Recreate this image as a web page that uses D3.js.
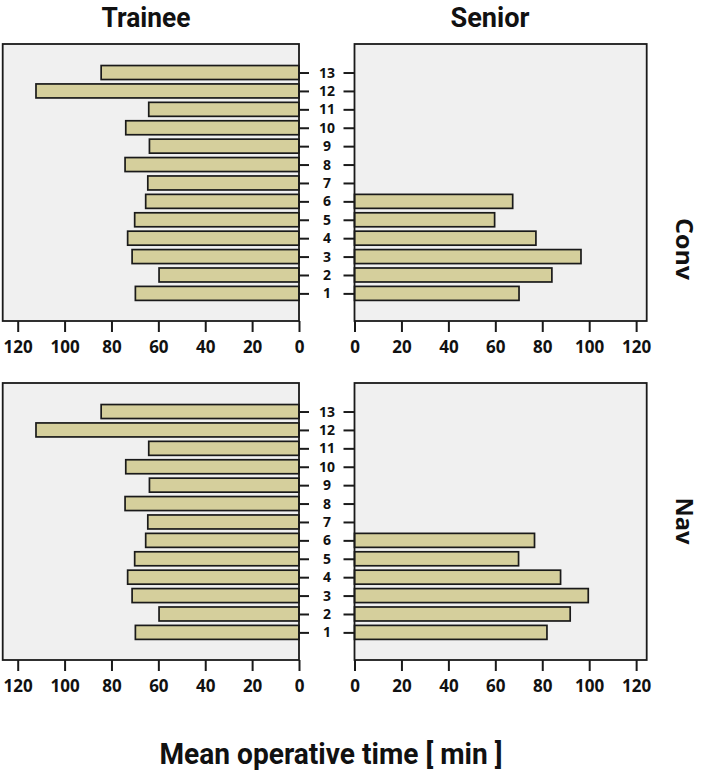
<!DOCTYPE html>
<html>
<head>
<meta charset="utf-8">
<script src="https://cdn.jsdelivr.net/npm/d3@7"></script>
<style>
  html, body { margin: 0; padding: 0; background: #fff; }
  svg { display: block; }
  text { font-family: "Open Sans", "Noto Sans", sans-serif; font-weight: bold; fill: #111; }
  .title { font-family: Roboto, "Open Sans", sans-serif; font-weight: bold; }
</style>
</head>
<body>
<svg id="chart" width="702" height="772"></svg>
<script>
// ---------- data ----------
const categories = [1, 2, 3, 4, 5, 6, 7, 8, 9, 10, 11, 12, 13];
const columns = ["Trainee", "Senior"];
const rows = ["Conv", "Nav"];
const traineeConv = [69.8, 59.7, 71.2, 73.1, 70.1, 65.4, 64.5, 74.2, 63.8, 73.9, 64.1, 112.2, 84.4];
const traineeNav  = [69.8, 59.7, 71.2, 73.1, 70.1, 65.4, 64.5, 74.2, 63.8, 73.9, 64.1, 112.2, 84.4];
const seniorConv  = [70.1, 84.1, 96.5, 77.3, 59.7, 67.4];
const seniorNav   = [82.0, 91.9, 99.6, 87.8, 69.9, 76.7];
const xTicks = [0, 20, 40, 60, 80, 100, 120];
const xTitle = "Mean operative time [ min ]";

// ---------- layout ----------
const svg = d3.select("#chart");
const leftPanel = { x0: 2.7, x1: 299 };
const rightPanel = { x0: 354.5, x1: 646.7 };
const rowTops = [44, 383];
const panelH = 277;
const barFill = "#d5cf9c";
const ink = "#1a1a1a";

const xL = d3.scaleLinear().domain([0, 126.4]).range([leftPanel.x1, leftPanel.x0]);
const xR = d3.scaleLinear().domain([0, 124.5]).range([rightPanel.x0, rightPanel.x1]);

const panelData = [
  [traineeConv, seniorConv],
  [traineeNav, seniorNav]
];

rows.forEach((rowName, r) => {
  const top = rowTops[r];
  const y = d3.scaleLinear().domain([-0.5, 14.55]).range([top + panelH, top]);
  const bh = y(0) - y(0.76);

  [[leftPanel, xL], [rightPanel, xR]].forEach(([p, sc], c) => {
    const g = svg.append("g");
    g.append("rect")
      .attr("x", p.x0).attr("y", top)
      .attr("width", p.x1 - p.x0).attr("height", panelH)
      .attr("fill", "#f0f0f0");

    const vals = panelData[r][c];
    g.selectAll("rect.bar").data(vals).join("rect")
      .attr("class", "bar")
      .attr("x", (d) => c === 0 ? sc(d) : sc(0))
      .attr("width", (d) => Math.abs(sc(d) - sc(0)))
      .attr("y", (d, i) => y(categories[i]) - bh / 2)
      .attr("height", bh)
      .attr("fill", barFill)
      .attr("stroke", ink)
      .attr("stroke-width", 1.7);

    g.append("rect")
      .attr("x", p.x0).attr("y", top)
      .attr("width", p.x1 - p.x0).attr("height", panelH)
      .attr("fill", "none").attr("stroke", ink).attr("stroke-width", 1.8);

    const ax = svg.append("g")
      .attr("transform", `translate(0,${top + panelH})`)
      .call(d3.axisBottom(sc).tickValues(xTicks).tickSize(11).tickSizeOuter(0));
    ax.select(".domain").remove();
    ax.selectAll(".tick line").attr("stroke", ink).attr("stroke-width", 2);
    ax.selectAll(".tick text")
      .attr("y", 32).attr("dy", null)
      .style("font-family", '"Open Sans", sans-serif')
      .style("font-weight", "bold")
      .style("font-size", "17px")
      .attr("fill", "#111");
  });

  const axL = svg.append("g")
    .attr("transform", `translate(${leftPanel.x1},0)`)
    .call(d3.axisRight(y).tickValues(categories).tickSize(10).tickFormat(""));
  axL.select(".domain").remove();
  axL.selectAll(".tick line").attr("stroke", ink).attr("stroke-width", 2);

  const axR = svg.append("g")
    .attr("transform", `translate(${rightPanel.x0},0)`)
    .call(d3.axisLeft(y).tickValues(categories).tickSize(11).tickFormat(""));
  axR.select(".domain").remove();
  axR.selectAll(".tick line").attr("stroke", ink).attr("stroke-width", 2);

  svg.append("g").selectAll("text").data(categories).join("text")
    .attr("x", 327)
    .attr("y", (d) => y(d))
    .attr("dy", "0.36em")
    .attr("text-anchor", "middle")
    .style("font-size", "14px")
    .text((d) => d);

  const rowCenterY = r === 0 ? 249 : 521;
  svg.append("text")
    .attr("transform", `translate(685,${rowCenterY}) rotate(90)`)
    .attr("text-anchor", "middle")
    .attr("dy", "0.36em")
    .style("font-size", "24px")
    .attr("textLength", r === 0 ? 62 : 47)
    .attr("lengthAdjust", "spacingAndGlyphs")
    .text(rowName);
});

// column titles
svg.append("text")
  .attr("class", "title")
  .attr("x", 146).attr("y", 27)
  .attr("text-anchor", "middle")
  .style("font-size", "28px")
  .attr("textLength", 89).attr("lengthAdjust", "spacingAndGlyphs")
  .text(columns[0]);
svg.append("text")
  .attr("class", "title")
  .attr("x", 490).attr("y", 27)
  .attr("text-anchor", "middle")
  .style("font-size", "28px")
  .attr("textLength", 79).attr("lengthAdjust", "spacingAndGlyphs")
  .text(columns[1]);

// x title
svg.append("text")
  .attr("class", "title")
  .attr("x", 331).attr("y", 764)
  .attr("text-anchor", "middle")
  .style("font-size", "30px")
  .attr("textLength", 343).attr("lengthAdjust", "spacingAndGlyphs")
  .text(xTitle);
</script>
</body>
</html>
